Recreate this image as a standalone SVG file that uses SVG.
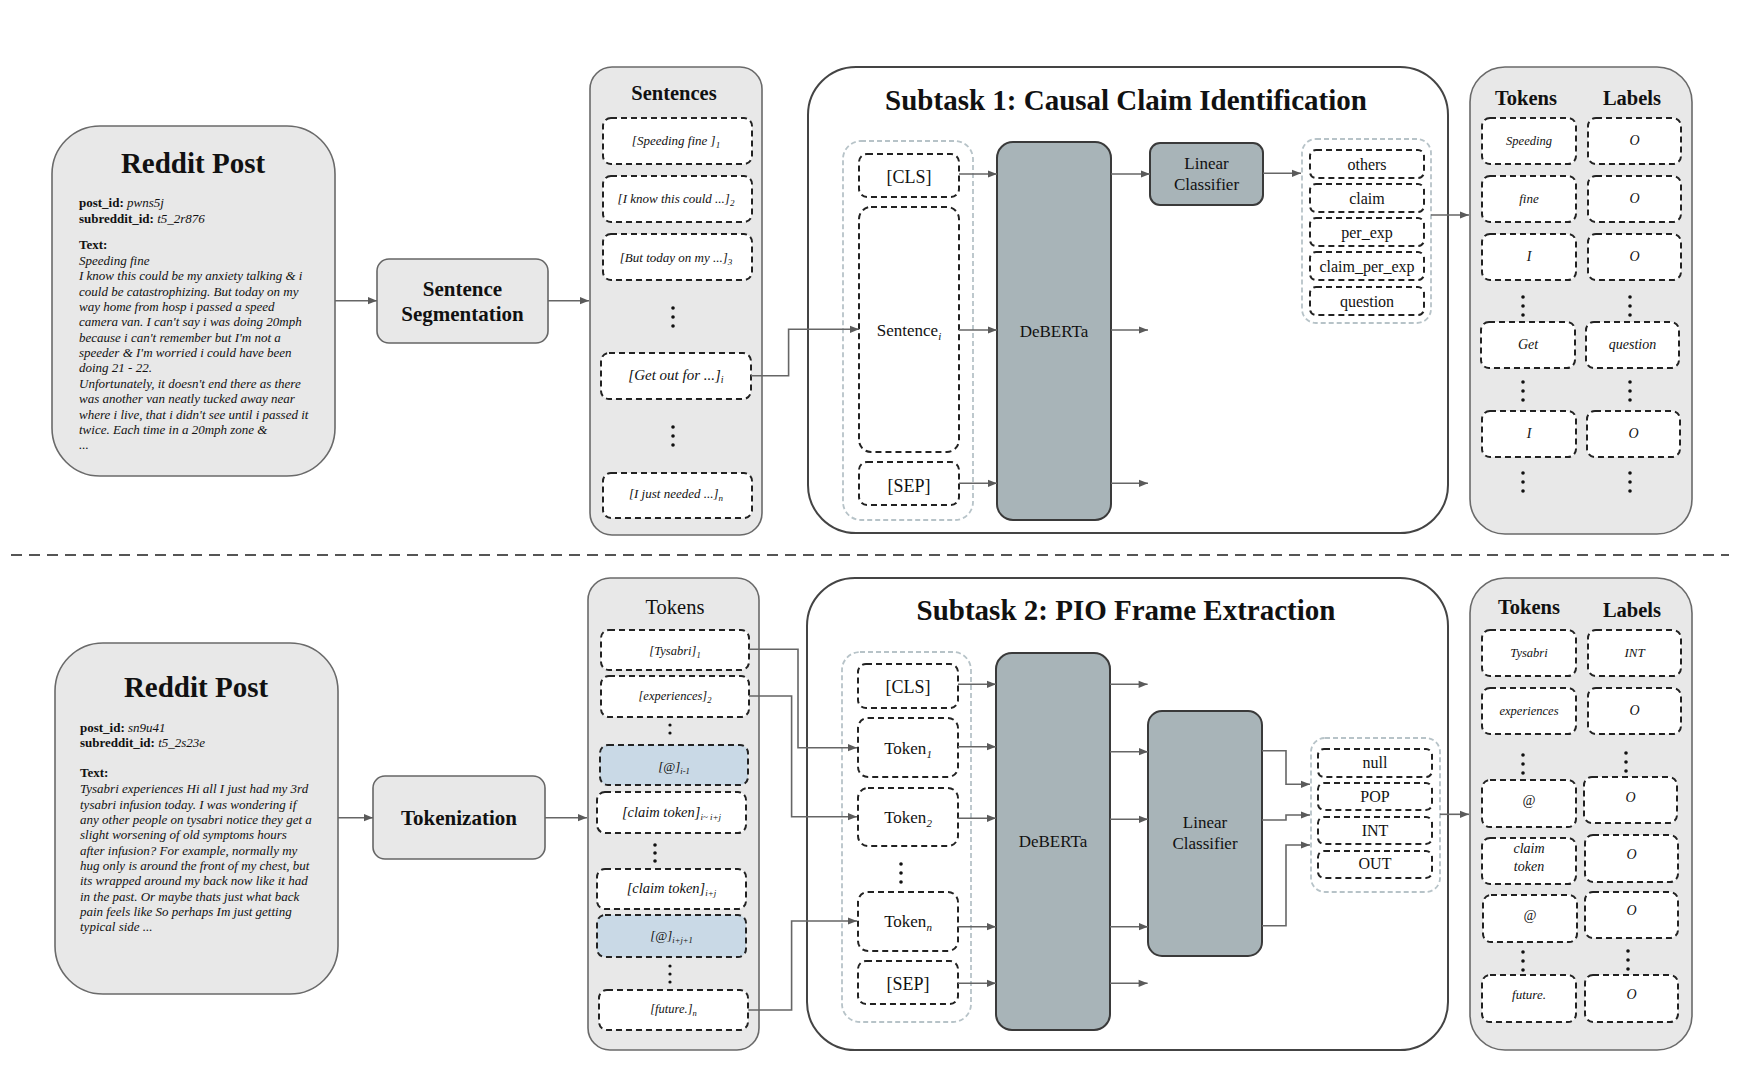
<svg xmlns="http://www.w3.org/2000/svg" width="1750" height="1074" viewBox="0 0 1750 1074">
<defs>
<marker id="ah" viewBox="0 0 10 10" refX="10" refY="5" markerWidth="10" markerHeight="9" markerUnits="userSpaceOnUse" orient="auto"><path d="M0,1 L10,5 L0,9 z" fill="#5a5a5a"/></marker>
<style>
text{font-family:"Liberation Serif","Times New Roman",serif;fill:#111}
.panel{fill:#e8e8e8;stroke:#6a6a6a;stroke-width:1.6}
.task{fill:#fff;stroke:#444;stroke-width:2}
.item{fill:#fff;stroke:#222;stroke-width:2;stroke-dasharray:6 4}
.blue{fill:#c9d9e6;stroke:#222;stroke-width:2;stroke-dasharray:6 4}
.grp{fill:none;stroke:#b7c3c8;stroke-width:1.8;stroke-dasharray:5 3}
.model{fill:#a8b4b8;stroke:#3a3a3a;stroke-width:2}
.box{fill:#e8e8e8;stroke:#666;stroke-width:1.6}
.c{stroke:#666;stroke-width:1.6;fill:none;marker-end:url(#ah)}
.cl{stroke:#666;stroke-width:1.6;fill:none}
.b{font-weight:bold}
.i{font-style:italic}
.m{text-anchor:middle}
.body{font-size:13px;font-style:italic}
.dot{fill:#111}
</style>
</defs>

<!-- separator -->
<line x1="11" y1="555" x2="1729" y2="555" stroke="#555" stroke-width="2" stroke-dasharray="11 7"/>

<!-- ===== TOP ===== -->
<g id="post1">
<rect class="panel" x="52" y="126" width="283" height="350" rx="48"/>
<text class="b m" x="193" y="173" font-size="29">Reddit Post</text>
<text x="79" y="207" font-size="13"><tspan class="b">post_id: </tspan><tspan class="i">pwns5j</tspan></text>
<text x="79" y="222.5" font-size="13"><tspan class="b">subreddit_id: </tspan><tspan class="i">t5_2r876</tspan></text>
<text x="79" y="249.3" font-size="13" class="b">Text:</text>
<text class="body" x="79" y="265">Speeding fine</text>
<text class="body" x="79" y="280.3">I know this could be my anxiety talking &amp; i</text>
<text class="body" x="79" y="295.7">could be catastrophizing. But today on my</text>
<text class="body" x="79" y="311">way home from hosp i passed a speed</text>
<text class="body" x="79" y="326.4">camera van. I can't say i was doing 20mph</text>
<text class="body" x="79" y="341.7">because i can't remember but I'm not a</text>
<text class="body" x="79" y="357.1">speeder &amp; I'm worried i could have been</text>
<text class="body" x="79" y="372.4">doing 21 - 22.</text>
<text class="body" x="79" y="387.8">Unfortunately, it doesn't end there as there</text>
<text class="body" x="79" y="403.1">was another van neatly tucked away near</text>
<text class="body" x="79" y="418.5">where i live, that i didn't see until i passed it</text>
<text class="body" x="79" y="433.8">twice. Each time in a 20mph zone &amp;</text>
<text class="body" x="79" y="449.2" font-size="10">...</text>
</g>

<g id="seg">
<rect class="box" x="377" y="259" width="171" height="84" rx="12"/>
<text class="b m" x="462.5" y="296" font-size="21">Sentence</text>
<text class="b m" x="462.5" y="320.7" font-size="21">Segmentation</text>
</g>

<g id="sentences">
<rect class="panel" x="590" y="67" width="172" height="468" rx="22"/>
<text class="b m" x="674" y="100" font-size="20.5">Sentences</text>
<rect class="item" x="603" y="118" width="149" height="46" rx="8"/>
<text class="i m" x="676" y="145" font-size="13">[Speeding fine ]<tspan font-size="9" dy="3">1</tspan></text>
<rect class="item" x="603" y="176" width="149" height="46" rx="8"/>
<text class="i m" x="676" y="203.3" font-size="13">[I know this could ...]<tspan font-size="9" dy="3">2</tspan></text>
<rect class="item" x="603" y="234" width="149" height="46" rx="8"/>
<text class="i m" x="676" y="261.7" font-size="13">[But today on my ...]<tspan font-size="9" dy="3">3</tspan></text>
<circle class="dot" cx="673" cy="308" r="1.8"/><circle class="dot" cx="673" cy="317" r="1.8"/><circle class="dot" cx="673" cy="326" r="1.8"/>
<rect class="item" x="601" y="353" width="150" height="46" rx="8"/>
<text class="i m" x="676" y="380" font-size="15">[Get out for ...]<tspan font-size="10" dy="3">i</tspan></text>
<circle class="dot" cx="673" cy="427" r="1.8"/><circle class="dot" cx="673" cy="436" r="1.8"/><circle class="dot" cx="673" cy="445" r="1.8"/>
<rect class="item" x="603" y="473" width="149" height="45" rx="8"/>
<text class="i m" x="676" y="498" font-size="13">[I just needed ...]<tspan font-size="9" dy="3">n</tspan></text>
</g>

<g id="subtask1">
<rect class="task" x="808" y="67" width="640" height="466" rx="48"/>
<text class="b m" x="1126" y="110" font-size="29">Subtask 1: Causal Claim Identification</text>
</g>

<g id="input1">
<rect class="grp" x="843" y="141" width="130" height="379" rx="18"/>
<rect class="item" x="859" y="154" width="100" height="43" rx="8"/>
<text class="m" x="909" y="183" font-size="18">[CLS]</text>
<rect class="item" x="859" y="207" width="100" height="245" rx="12"/>
<text class="m" x="909" y="336" font-size="17">Sentence<tspan class="i" font-size="11" dy="4">i</tspan></text>
<rect class="item" x="859" y="462" width="100" height="43" rx="8"/>
<text class="m" x="909" y="491.5" font-size="18">[SEP]</text>
</g>

<g id="deberta1">
<rect class="model" x="997" y="142" width="114" height="378" rx="16"/>
<text class="m" x="1054" y="336.5" font-size="17">DeBERTa</text>
</g>

<g id="lc1">
<rect class="model" x="1150" y="143" width="113" height="62" rx="10"/>
<text class="m" x="1206.5" y="169" font-size="17">Linear</text>
<text class="m" x="1206.5" y="190" font-size="17">Classifier</text>
</g>

<g id="labels1">
<rect class="grp" x="1302" y="139" width="129" height="184" rx="14"/>
<rect class="item" x="1310" y="150" width="114" height="28" rx="6"/>
<text class="m" x="1367" y="170" font-size="16">others</text>
<rect class="item" x="1310" y="184" width="114" height="28" rx="6"/>
<text class="m" x="1367" y="204" font-size="16">claim</text>
<rect class="item" x="1310" y="218" width="114" height="28" rx="6"/>
<text class="m" x="1367" y="238.3" font-size="16">per_exp</text>
<rect class="item" x="1310" y="252" width="114" height="28" rx="6"/>
<text class="m" x="1367" y="272.3" font-size="16">claim_per_exp</text>
<rect class="item" x="1310" y="287" width="114" height="28" rx="6"/>
<text class="m" x="1367" y="306.7" font-size="16">question</text>
</g>

<g id="out1">
<rect class="panel" x="1470" y="67" width="222" height="467" rx="35"/>
<text class="b m" x="1526" y="105" font-size="20.5">Tokens</text>
<text class="b m" x="1632" y="105" font-size="20.5">Labels</text>
<rect class="item" x="1482" y="118" width="94" height="46" rx="8"/><text class="i m" x="1529" y="145" font-size="12.5">Speeding</text>
<rect class="item" x="1588" y="118" width="93" height="46" rx="8"/><text class="i m" x="1634.5" y="145" font-size="14">O</text>
<rect class="item" x="1482" y="176" width="94" height="46" rx="8"/><text class="i m" x="1529" y="202.7" font-size="13">fine</text>
<rect class="item" x="1588" y="176" width="93" height="46" rx="8"/><text class="i m" x="1634.5" y="202.7" font-size="14">O</text>
<rect class="item" x="1482" y="234" width="94" height="46" rx="8"/><text class="i m" x="1529" y="261" font-size="14">I</text>
<rect class="item" x="1588" y="234" width="93" height="46" rx="8"/><text class="i m" x="1634.5" y="261" font-size="14">O</text>
<circle class="dot" cx="1523" cy="297" r="1.8"/><circle class="dot" cx="1523" cy="306" r="1.8"/><circle class="dot" cx="1523" cy="315" r="1.8"/>
<circle class="dot" cx="1630" cy="297" r="1.8"/><circle class="dot" cx="1630" cy="306" r="1.8"/><circle class="dot" cx="1630" cy="315" r="1.8"/>
<rect class="item" x="1481" y="322" width="94" height="46" rx="8"/><text class="i m" x="1528" y="349.3" font-size="14">Get</text>
<rect class="item" x="1586" y="322" width="93" height="46" rx="8"/><text class="i m" x="1632.5" y="349.3" font-size="14">question</text>
<circle class="dot" cx="1523" cy="382" r="1.8"/><circle class="dot" cx="1523" cy="391" r="1.8"/><circle class="dot" cx="1523" cy="400" r="1.8"/>
<circle class="dot" cx="1630" cy="382" r="1.8"/><circle class="dot" cx="1630" cy="391" r="1.8"/><circle class="dot" cx="1630" cy="400" r="1.8"/>
<rect class="item" x="1482" y="411" width="94" height="46" rx="8"/><text class="i m" x="1529" y="438.3" font-size="14">I</text>
<rect class="item" x="1587" y="411" width="93" height="46" rx="8"/><text class="i m" x="1633.5" y="438.3" font-size="14">O</text>
<circle class="dot" cx="1523" cy="473" r="1.8"/><circle class="dot" cx="1523" cy="482" r="1.8"/><circle class="dot" cx="1523" cy="491" r="1.8"/>
<circle class="dot" cx="1630" cy="473" r="1.8"/><circle class="dot" cx="1630" cy="482" r="1.8"/><circle class="dot" cx="1630" cy="491" r="1.8"/>
</g>

<!-- ===== BOTTOM ===== -->
<g id="post2">
<rect class="panel" x="55" y="643" width="283" height="351" rx="48"/>
<text class="b m" x="196" y="697.3" font-size="29">Reddit Post</text>
<text x="80" y="731.7" font-size="13"><tspan class="b">post_id: </tspan><tspan class="i">sn9u41</tspan></text>
<text x="80" y="747" font-size="13"><tspan class="b">subreddit_id: </tspan><tspan class="i">t5_2s23e</tspan></text>
<text x="80" y="777.3" font-size="13" class="b">Text:</text>
<text class="body" x="80" y="793.3">Tysabri experiences Hi all I just had my 3rd</text>
<text class="body" x="80" y="808.6">tysabri infusion today. I was wondering if</text>
<text class="body" x="80" y="824">any other people on tysabri notice they get a</text>
<text class="body" x="80" y="839.3">slight worsening of old symptoms hours</text>
<text class="body" x="80" y="854.6">after infusion? For example, normally my</text>
<text class="body" x="80" y="870">hug only is around the front of my chest, but</text>
<text class="body" x="80" y="885.3">its wrapped around my back now like it had</text>
<text class="body" x="80" y="900.6">in the past. Or maybe thats just what back</text>
<text class="body" x="80" y="916">pain feels like So perhaps Im just getting</text>
<text class="body" x="80" y="931.3">typical side ...</text>
</g>

<g id="tokenization">
<rect class="box" x="373" y="776" width="172" height="83" rx="12"/>
<text class="b m" x="459" y="825" font-size="21">Tokenization</text>
</g>

<g id="tokens">
<rect class="panel" x="588" y="578" width="171" height="472" rx="22"/>
<text class="m" x="675" y="614" font-size="20.5">Tokens</text>
<rect class="item" x="601" y="630" width="148" height="40" rx="8"/>
<text class="i m" x="675" y="655" font-size="12.5">[Tysabri]<tspan font-size="8.5" dy="3">1</tspan></text>
<rect class="item" x="601" y="676" width="148" height="41" rx="8"/>
<text class="i m" x="675" y="700" font-size="12.5">[experiences]<tspan font-size="8.5" dy="3">2</tspan></text>
<circle class="dot" cx="670" cy="725" r="1.6"/><circle class="dot" cx="670" cy="733" r="1.6"/>
<rect class="blue" x="600" y="745" width="148" height="40" rx="8"/>
<text class="i m" x="674" y="770.7" font-size="13">[@]<tspan font-size="8.5" dy="3">i-1</tspan></text>
<rect class="item" x="597" y="792" width="149" height="41" rx="8"/>
<text class="i m" x="671.5" y="816.7" font-size="14.5">[claim token]<tspan font-size="9" dy="3">i~ i+j</tspan></text>
<circle class="dot" cx="655" cy="845" r="1.8"/><circle class="dot" cx="655" cy="853" r="1.8"/><circle class="dot" cx="655" cy="861" r="1.8"/>
<rect class="item" x="597" y="869" width="149" height="40" rx="8"/>
<text class="i m" x="671.5" y="893.3" font-size="14.5">[claim token]<tspan font-size="9" dy="3">i+j</tspan></text>
<rect class="blue" x="597" y="915" width="149" height="42" rx="8"/>
<text class="i m" x="671.5" y="940" font-size="13">[@]<tspan font-size="8.5" dy="3">i+j+1</tspan></text>
<circle class="dot" cx="670" cy="966" r="1.6"/><circle class="dot" cx="670" cy="974" r="1.6"/><circle class="dot" cx="670" cy="982" r="1.6"/>
<rect class="item" x="599" y="990" width="149" height="40" rx="8"/>
<text class="i m" x="673.5" y="1013.3" font-size="12.5">[future.]<tspan font-size="8.5" dy="3">n</tspan></text>
</g>

<g id="subtask2">
<rect class="task" x="807" y="578" width="641" height="472" rx="48"/>
<text class="b m" x="1126" y="620" font-size="29">Subtask 2: PIO Frame Extraction</text>
</g>

<g id="input2">
<rect class="grp" x="842" y="652" width="129" height="370" rx="18"/>
<rect class="item" x="858" y="664" width="100" height="44" rx="8"/>
<text class="m" x="908" y="693.3" font-size="18">[CLS]</text>
<rect class="item" x="858" y="718" width="100" height="59" rx="10"/>
<text class="m" x="908" y="754" font-size="17">Token<tspan class="i" font-size="11" dy="4">1</tspan></text>
<rect class="item" x="858" y="788" width="100" height="58" rx="10"/>
<text class="m" x="908" y="823.3" font-size="17">Token<tspan class="i" font-size="11" dy="4">2</tspan></text>
<circle class="dot" cx="901" cy="864" r="1.8"/><circle class="dot" cx="901" cy="873" r="1.8"/><circle class="dot" cx="901" cy="882" r="1.8"/>
<rect class="item" x="858" y="892" width="100" height="59" rx="10"/>
<text class="m" x="908" y="926.7" font-size="17">Token<tspan class="i" font-size="11" dy="4">n</tspan></text>
<rect class="item" x="858" y="961" width="100" height="43" rx="8"/>
<text class="m" x="908" y="990" font-size="18">[SEP]</text>
</g>

<g id="deberta2">
<rect class="model" x="996" y="653" width="114" height="377" rx="16"/>
<text class="m" x="1053" y="846.7" font-size="17">DeBERTa</text>
</g>

<g id="lc2">
<rect class="model" x="1148" y="711" width="114" height="245" rx="14"/>
<text class="m" x="1205" y="828.3" font-size="17">Linear</text>
<text class="m" x="1205" y="849.3" font-size="17">Classifier</text>
</g>

<g id="labels2">
<rect class="grp" x="1311" y="738" width="129" height="154" rx="14"/>
<rect class="item" x="1318" y="749" width="114" height="28" rx="6"/>
<text class="m" x="1375" y="768.3" font-size="16">null</text>
<rect class="item" x="1318" y="783" width="114" height="27" rx="6"/>
<text class="m" x="1375" y="801.7" font-size="16">POP</text>
<rect class="item" x="1318" y="817" width="114" height="27" rx="6"/>
<text class="m" x="1375" y="836" font-size="16">INT</text>
<rect class="item" x="1318" y="851" width="114" height="27" rx="6"/>
<text class="m" x="1375" y="869.3" font-size="16">OUT</text>
</g>

<g id="out2">
<rect class="panel" x="1470" y="578" width="222" height="472" rx="35"/>
<text class="b m" x="1529" y="614.3" font-size="20.5">Tokens</text>
<text class="b m" x="1632" y="616.7" font-size="20.5">Labels</text>
<rect class="item" x="1482" y="630" width="94" height="46" rx="8"/><text class="i m" x="1529" y="656.7" font-size="12.5">Tysabri</text>
<rect class="item" x="1588" y="630" width="93" height="46" rx="8"/><text class="i m" x="1634.5" y="656.7" font-size="13">INT</text>
<rect class="item" x="1482" y="688" width="94" height="46" rx="8"/><text class="i m" x="1529" y="715" font-size="12.5">experiences</text>
<rect class="item" x="1588" y="688" width="93" height="46" rx="8"/><text class="i m" x="1634.5" y="715" font-size="14">O</text>
<circle class="dot" cx="1523" cy="755" r="1.8"/><circle class="dot" cx="1523" cy="764" r="1.8"/><circle class="dot" cx="1523" cy="773" r="1.8"/>
<circle class="dot" cx="1626" cy="753" r="1.8"/><circle class="dot" cx="1626" cy="762" r="1.8"/><circle class="dot" cx="1626" cy="771" r="1.8"/>
<rect class="item" x="1482" y="780" width="94" height="47" rx="8"/><text class="i m" x="1529" y="805" font-size="14">@</text>
<rect class="item" x="1584" y="777" width="93" height="46" rx="8"/><text class="i m" x="1630.5" y="801.7" font-size="14">O</text>
<rect class="item" x="1482" y="838" width="94" height="46" rx="8"/><text class="i m" x="1529" y="853.3" font-size="14">claim</text><text class="i m" x="1529" y="870.7" font-size="14">token</text>
<rect class="item" x="1585" y="835" width="93" height="47" rx="8"/><text class="i m" x="1631.5" y="859" font-size="14">O</text>
<rect class="item" x="1483" y="895" width="94" height="47" rx="8"/><text class="i m" x="1530" y="920" font-size="14">@</text>
<rect class="item" x="1585" y="892" width="93" height="46" rx="8"/><text class="i m" x="1631.5" y="915" font-size="14">O</text>
<circle class="dot" cx="1523" cy="952" r="1.8"/><circle class="dot" cx="1523" cy="961" r="1.8"/><circle class="dot" cx="1523" cy="970" r="1.8"/>
<circle class="dot" cx="1628" cy="951" r="1.8"/><circle class="dot" cx="1628" cy="960" r="1.8"/><circle class="dot" cx="1628" cy="969" r="1.8"/>
<rect class="item" x="1482" y="975" width="94" height="47" rx="8"/><text class="i m" x="1529" y="999.3" font-size="13">future.</text>
<rect class="item" x="1585" y="975" width="93" height="47" rx="8"/><text class="i m" x="1631.5" y="999.3" font-size="14">O</text>
</g>

<!-- ===== CONNECTORS ===== -->
<g id="connectors">
<path class="c" d="M335,300.7 H377"/>
<path class="c" d="M548,300.7 H589"/>
<path class="c" d="M751,375.7 H788.6 V329.3 H859"/>
<path class="c" d="M959,174 H997"/>
<path class="c" d="M959,330 H997"/>
<path class="c" d="M959,483.3 H997"/>
<path class="c" d="M1111,174 H1150"/>
<path class="c" d="M1111,330 H1148"/>
<path class="c" d="M1111,483.3 H1148"/>
<path class="c" d="M1263,173.3 H1301"/>
<path class="c" d="M1431,215 H1469"/>

<path class="c" d="M338,817.7 H373"/>
<path class="c" d="M545,817.7 H587"/>
<path class="c" d="M749,649.3 H798 V747.7 H857"/>
<path class="c" d="M749,696 H791.6 V816.7 H857"/>
<path class="c" d="M748.4,1010 H791.6 V921 H857"/>
<path class="c" d="M958,684.3 H996"/>
<path class="c" d="M958,746.7 H996"/>
<path class="c" d="M958,818.3 H996"/>
<path class="c" d="M958,926.7 H996"/>
<path class="c" d="M958,983.3 H996"/>
<path class="c" d="M1110,684.3 H1147.6"/>
<path class="c" d="M1110,751.7 H1148"/>
<path class="c" d="M1110,819.3 H1148"/>
<path class="c" d="M1110,926.7 H1148"/>
<path class="c" d="M1110,983.3 H1147.6"/>
<path class="c" d="M1262,750.7 H1286 V784.3 H1310"/>
<path class="c" d="M1262,820 H1286 V815 H1310"/>
<path class="c" d="M1262,925.7 H1286 V845 H1310"/>
<path class="c" d="M1440,814.3 H1469"/>
</g>
</svg>
